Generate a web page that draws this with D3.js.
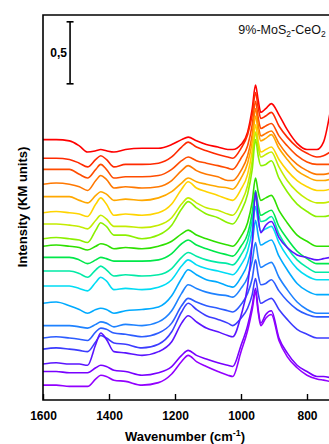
<!DOCTYPE html>
<html><head><meta charset="utf-8">
<script src="https://cdn.jsdelivr.net/npm/d3@7"></script>
<style>body{margin:0;background:#fff}svg{display:block}</style>
</head><body>
<svg id="c" width="329" height="444"></svg>
<script>
// wavenumbers (cm-1) at which spectra were read
const wavenumbers = [1600,1560,1520,1490,1465,1440,1425,1408,1385,1350,1300,1250,1210,1180,1160,1135,1105,1070,1040,1025,1000,980,966,956,948,940,925,908,885,860,830,800,770,750,730];
// stacked spectra (KM units, offset included), top (red) to bottom (violet)
const s1 = [2.10,2.10,2.09,2.05,2.00,2.01,2.02,2.01,2.00,2.02,2.03,2.03,2.06,2.10,2.12,2.09,2.06,2.04,2.02,2.02,2.06,2.16,2.35,2.54,2.42,2.32,2.35,2.39,2.30,2.18,2.07,2.02,2.02,2.08,2.32];
const s2 = [1.95,1.95,1.94,1.91,1.88,1.94,1.97,1.94,1.88,1.90,1.90,1.91,1.96,2.04,2.08,2.04,2.01,1.98,1.96,1.95,2.03,2.14,2.30,2.48,2.36,2.27,2.29,2.32,2.21,2.12,2.04,1.99,1.96,1.97,2.00];
const s3 = [1.86,1.86,1.86,1.82,1.79,1.86,1.90,1.86,1.79,1.80,1.80,1.81,1.86,1.93,1.96,1.93,1.91,1.89,1.87,1.86,1.95,2.05,2.22,2.41,2.28,2.19,2.21,2.23,2.13,2.05,1.97,1.92,1.90,1.90,1.90];
const s4 = [1.74,1.75,1.74,1.72,1.69,1.77,1.81,1.78,1.71,1.72,1.71,1.72,1.77,1.85,1.89,1.85,1.82,1.80,1.77,1.77,1.85,1.97,2.14,2.35,2.22,2.13,2.15,2.17,2.07,1.98,1.90,1.85,1.82,1.82,1.83];
const s5 = [1.64,1.64,1.64,1.61,1.59,1.65,1.68,1.66,1.61,1.62,1.61,1.63,1.68,1.75,1.79,1.76,1.74,1.72,1.71,1.70,1.79,1.91,2.08,2.29,2.17,2.09,2.11,2.14,2.03,1.94,1.85,1.80,1.77,1.77,1.78];
const s6 = [1.51,1.52,1.51,1.50,1.48,1.58,1.63,1.58,1.49,1.50,1.49,1.51,1.58,1.70,1.76,1.71,1.68,1.65,1.62,1.61,1.70,1.82,2.01,2.22,2.09,2.00,2.02,2.04,1.94,1.85,1.77,1.72,1.69,1.69,1.70];
const s7 = [1.42,1.42,1.41,1.40,1.38,1.45,1.49,1.46,1.40,1.40,1.39,1.41,1.47,1.58,1.63,1.59,1.55,1.53,1.50,1.49,1.59,1.73,1.93,2.16,2.04,1.96,1.98,2.00,1.88,1.77,1.68,1.62,1.59,1.59,1.60];
const s8 = [1.30,1.31,1.30,1.29,1.27,1.37,1.43,1.40,1.33,1.33,1.30,1.33,1.41,1.54,1.60,1.55,1.50,1.47,1.43,1.42,1.52,1.66,1.86,2.10,1.97,1.89,1.90,1.93,1.79,1.68,1.58,1.52,1.48,1.48,1.49];
const s9 = [1.24,1.25,1.24,1.23,1.21,1.24,1.26,1.25,1.22,1.23,1.22,1.24,1.28,1.34,1.37,1.33,1.30,1.27,1.25,1.24,1.32,1.43,1.60,1.79,1.68,1.61,1.63,1.65,1.53,1.43,1.33,1.28,1.24,1.24,1.24];
const s10 = [1.15,1.15,1.15,1.13,1.10,1.13,1.15,1.14,1.12,1.12,1.12,1.13,1.18,1.26,1.29,1.25,1.22,1.19,1.17,1.16,1.24,1.34,1.51,1.69,1.57,1.49,1.51,1.53,1.40,1.30,1.20,1.14,1.10,1.10,1.10];
const s11 = [1.04,1.04,1.04,1.02,0.99,1.05,1.08,1.05,1.00,1.01,1.00,1.01,1.06,1.15,1.19,1.16,1.13,1.11,1.10,1.09,1.17,1.28,1.45,1.64,1.52,1.44,1.45,1.48,1.34,1.23,1.13,1.07,1.03,1.03,1.03];
const s12 = [0.92,0.92,0.92,0.90,0.88,0.95,0.99,0.96,0.89,0.90,0.89,0.91,0.97,1.08,1.13,1.09,1.06,1.04,1.02,1.01,1.09,1.20,1.37,1.56,1.44,1.36,1.38,1.40,1.27,1.16,1.06,1.00,0.97,0.97,0.97];
const s13 = [0.78,0.79,0.76,0.73,0.70,0.73,0.74,0.73,0.70,0.72,0.73,0.75,0.84,0.98,1.05,1.01,0.97,0.95,0.92,0.91,0.99,1.10,1.26,1.45,1.33,1.25,1.27,1.29,1.16,1.05,0.94,0.88,0.85,0.85,0.85];
const s14 = [0.60,0.60,0.60,0.59,0.58,0.61,0.63,0.62,0.59,0.61,0.60,0.63,0.72,0.86,0.93,0.90,0.87,0.85,0.84,0.83,0.90,0.99,1.12,1.27,1.15,1.07,1.09,1.11,0.99,0.89,0.79,0.73,0.70,0.70,0.70];
const s15 = [0.50,0.51,0.50,0.49,0.48,0.55,0.58,0.57,0.54,0.53,0.51,0.54,0.62,0.76,0.82,0.79,0.76,0.74,0.72,0.71,0.77,0.86,0.98,1.13,1.01,0.93,0.94,0.97,0.88,0.80,0.73,0.69,0.67,0.67,0.67];
const s16 = [0.41,0.42,0.41,0.40,0.39,0.47,0.52,0.50,0.46,0.45,0.42,0.45,0.55,0.71,0.78,0.73,0.68,0.65,0.62,0.60,0.66,0.74,0.85,0.98,0.86,0.78,0.80,0.82,0.73,0.65,0.57,0.53,0.50,0.50,0.50];
const s17 = [0.29,0.30,0.29,0.29,0.28,0.45,0.54,0.49,0.39,0.38,0.36,0.39,0.47,0.62,0.68,0.63,0.58,0.55,0.52,0.51,0.68,0.92,1.27,1.68,1.48,1.35,1.41,1.44,1.31,1.23,1.17,1.15,1.13,1.14,1.15];
const s18 = [0.23,0.23,0.22,0.22,0.22,0.26,0.28,0.27,0.24,0.23,0.20,0.22,0.27,0.36,0.40,0.36,0.33,0.30,0.28,0.27,0.44,0.60,0.76,0.90,0.73,0.62,0.69,0.72,0.50,0.38,0.28,0.23,0.19,0.19,0.18];
const s19 = [0.12,0.12,0.11,0.11,0.11,0.17,0.20,0.19,0.16,0.15,0.12,0.14,0.21,0.31,0.36,0.31,0.27,0.23,0.20,0.19,0.39,0.56,0.73,0.87,0.71,0.60,0.66,0.69,0.48,0.35,0.26,0.20,0.17,0.16,0.15];
const colors = ["#ff0000","#ff2a00","#ff4c00","#ff7800","#ffa800","#ffd400","#c4ec00","#8cf000","#2ee000","#00e84a","#00eaa6","#00dcf4","#00aaff","#1e82ff","#2c5cff","#3c3cff","#5a14ff","#7800ff","#9200ff"];
const xTicks = [1600,1400,1200,1000,800];
const title = "9%-MoS";
const scaleBarValue = 0.5;

const spectra = [s1,s2,s3,s4,s5,s6,s7,s8,s9,s10,s11,s12,s13,s14,s15,s16,s17,s18,s19];

const svg = d3.select("#c");
const font = "'Liberation Sans', Arial, sans-serif";
const x = d3.scaleLinear().domain([1600, 700]).range([43, 340]);
const y = d3.scaleLinear().domain([0, 3.105]).range([400, 15]);

svg.append("defs").append("clipPath").attr("id","clip")
  .append("rect").attr("x", x(1600)).attr("y", y(3.105)).attr("width", x(700)-x(1600)).attr("height", y(0)-y(3.105));

const line = d3.line().x((d,i)=>x(wavenumbers[i])).y(d=>y(d)).curve(d3.curveMonotoneX);
const g = svg.append("g").attr("clip-path","url(#clip)");
spectra.forEach((s,k)=>{
  g.append("path").attr("d", line(s)).attr("fill","none")
   .attr("stroke", colors[k]).attr("stroke-width",1.6).attr("stroke-linejoin","round");
});

// frame
svg.append("path").attr("d", `M${x(700)},${y(3.105)}H${x(1600)}V${y(0)}H${x(700)}`)
  .attr("fill","none").attr("stroke","#000").attr("stroke-width",1.6);

// x axis
const ax = svg.append("g").attr("transform",`translate(0,${y(0)})`)
  .call(d3.axisBottom(x).tickValues(xTicks).tickSize(-6).tickPadding(11).tickFormat(d3.format("d")));
ax.select(".domain").remove();
ax.selectAll(".tick line").attr("stroke","#000").attr("stroke-width",1.4);
ax.selectAll(".tick text").attr("font-family",font).attr("font-size",12).attr("font-weight","bold").attr("fill","#000");

// axis titles
const xt = svg.append("text").attr("x",185).attr("y",441).attr("text-anchor","middle")
  .attr("font-family",font).attr("font-size",13).attr("font-weight","bold");
xt.append("tspan").text("Wavenumber (cm");
xt.append("tspan").text("-1").attr("font-size",9).attr("dy",-5);
xt.append("tspan").text(")").attr("dy",5);

svg.append("text").attr("transform","translate(27,207) rotate(-90)").attr("text-anchor","middle")
  .attr("font-family",font).attr("font-size",13).attr("font-weight","bold").text("Intensity (KM units)");

// title
const tt = svg.append("text").attr("x", x(1008)).attr("y", 34)
  .attr("font-family",font).attr("font-size",12.5).attr("fill","#111");
tt.append("tspan").text(title);
tt.append("tspan").text("2").attr("font-size",8.5).attr("dy",3);
tt.append("tspan").text("-CeO").attr("dy",-3);
tt.append("tspan").text("2").attr("font-size",8.5).attr("dy",3);

// scale bar
const sbTop = 3.05, sbX = x(1518);
const sb = svg.append("g").attr("stroke","#000").attr("stroke-width",1.6);
sb.append("line").attr("x1",sbX).attr("x2",sbX).attr("y1",y(sbTop)).attr("y2",y(sbTop-scaleBarValue));
sb.append("line").attr("x1",sbX-3.5).attr("x2",sbX+3.5).attr("y1",y(sbTop)).attr("y2",y(sbTop));
sb.append("line").attr("x1",sbX-3.5).attr("x2",sbX+3.5).attr("y1",y(sbTop-scaleBarValue)).attr("y2",y(sbTop-scaleBarValue));
svg.append("text").attr("x",sbX-3).attr("y",(y(sbTop)+y(sbTop-scaleBarValue))/2+4).attr("text-anchor","end")
  .attr("font-family",font).attr("font-size",12).attr("font-weight","bold").text("0,5");
</script>
</body></html>
